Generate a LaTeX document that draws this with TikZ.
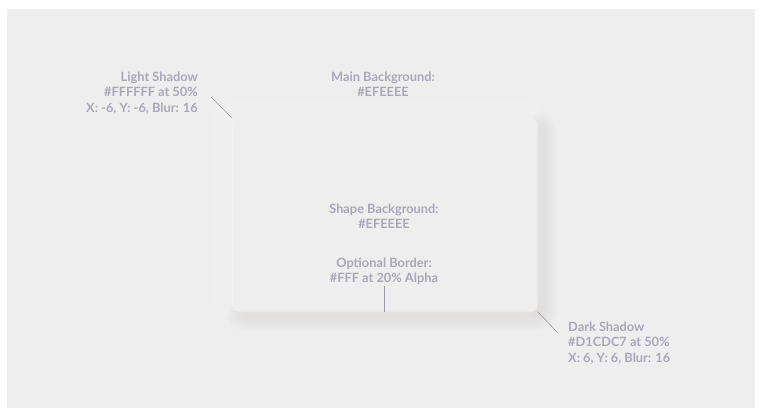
\documentclass[tikz,border=0pt]{standalone}
\usepackage{fontspec}
\setmainfont{Lato}[FontFace={sb}{n}{Font=* Semibold}]
\definecolor{mainbg}{HTML}{EFEEEE}
\definecolor{darksh}{HTML}{D1CDC7}
\definecolor{labc}{HTML}{A9A8B9}
\definecolor{leadc}{HTML}{9C9BA8}
\tikzset{
  lab/.style={text=labc, font=\bfseries\fontsize{12.8}{15.5}\selectfont, inner sep=0pt, align=center},
  leader/.style={draw=leadc, line width=0.6pt},
}
\begin{document}
\begin{tikzpicture}[x=1pt,y=-1pt]
\useasboundingbox (0,0) rectangle (762,416);
\fill[white] (0,0) rectangle (762,416);
\fill[mainbg] (7,9) rectangle (755,408);
% dark shadow (offset 6,6 ; blur 16)
\foreach \e in {-14,-12,...,14}{
  \pgfmathsetmacro{\r}{max(7+\e,1)}
  \fill[darksh, fill opacity=0.05, rounded corners=\r pt]
    (232+6-\e,118+6-\e) rectangle (537+6+\e,311+6+\e);
}
% light shadow (offset -6,-6 ; blur 16)
\foreach \e in {-14,-12,...,14}{
  \pgfmathsetmacro{\r}{max(7+\e,1)}
  \fill[white, fill opacity=0.06, rounded corners=\r pt]
    (232-6-\e,118-6-\e) rectangle (537-6+\e,311-6+\e);
}
% card
\node[draw=white, draw opacity=0.35, line width=0.6pt, fill=mainbg, rounded corners=7pt,
      minimum width=305pt, minimum height=193pt, inner sep=0pt, anchor=north west] (card) at (232,118) {};
% labels
\node[lab, align=right, anchor=north east] (light) at (198,71.3)
  {Light Shadow\\\#FFFFFF at 50\%\\X: -6, Y: -6, Blur: 16};
\node[lab, anchor=north] (main) at (383,71.3) {Main Background:\\\#EFEEEE};
\node[lab, anchor=north] (shape) at (384,203.3) {Shape Background:\\\#EFEEEE};
\node[lab, anchor=north] (border) at (384,257.3) {Optional Border:\\\#FFF at 20\% Alpha};
\node[lab, align=left, anchor=north west] (dark) at (568,321.3)
  {Dark Shadow\\\#D1CDC7 at 50\%\\X: 6, Y: 6, Blur: 16};
% leader lines
\coordinate (lightend) at (211,97);
\coordinate (darkend) at (558,333);
\coordinate (bordertop) at (384,286);
\draw[leader] (lightend) -- (card.north west);
\draw[leader] (card.south east) -- (darkend);
\draw[leader] (bordertop) -- (bordertop |- card.south);
\end{tikzpicture}
\end{document}
